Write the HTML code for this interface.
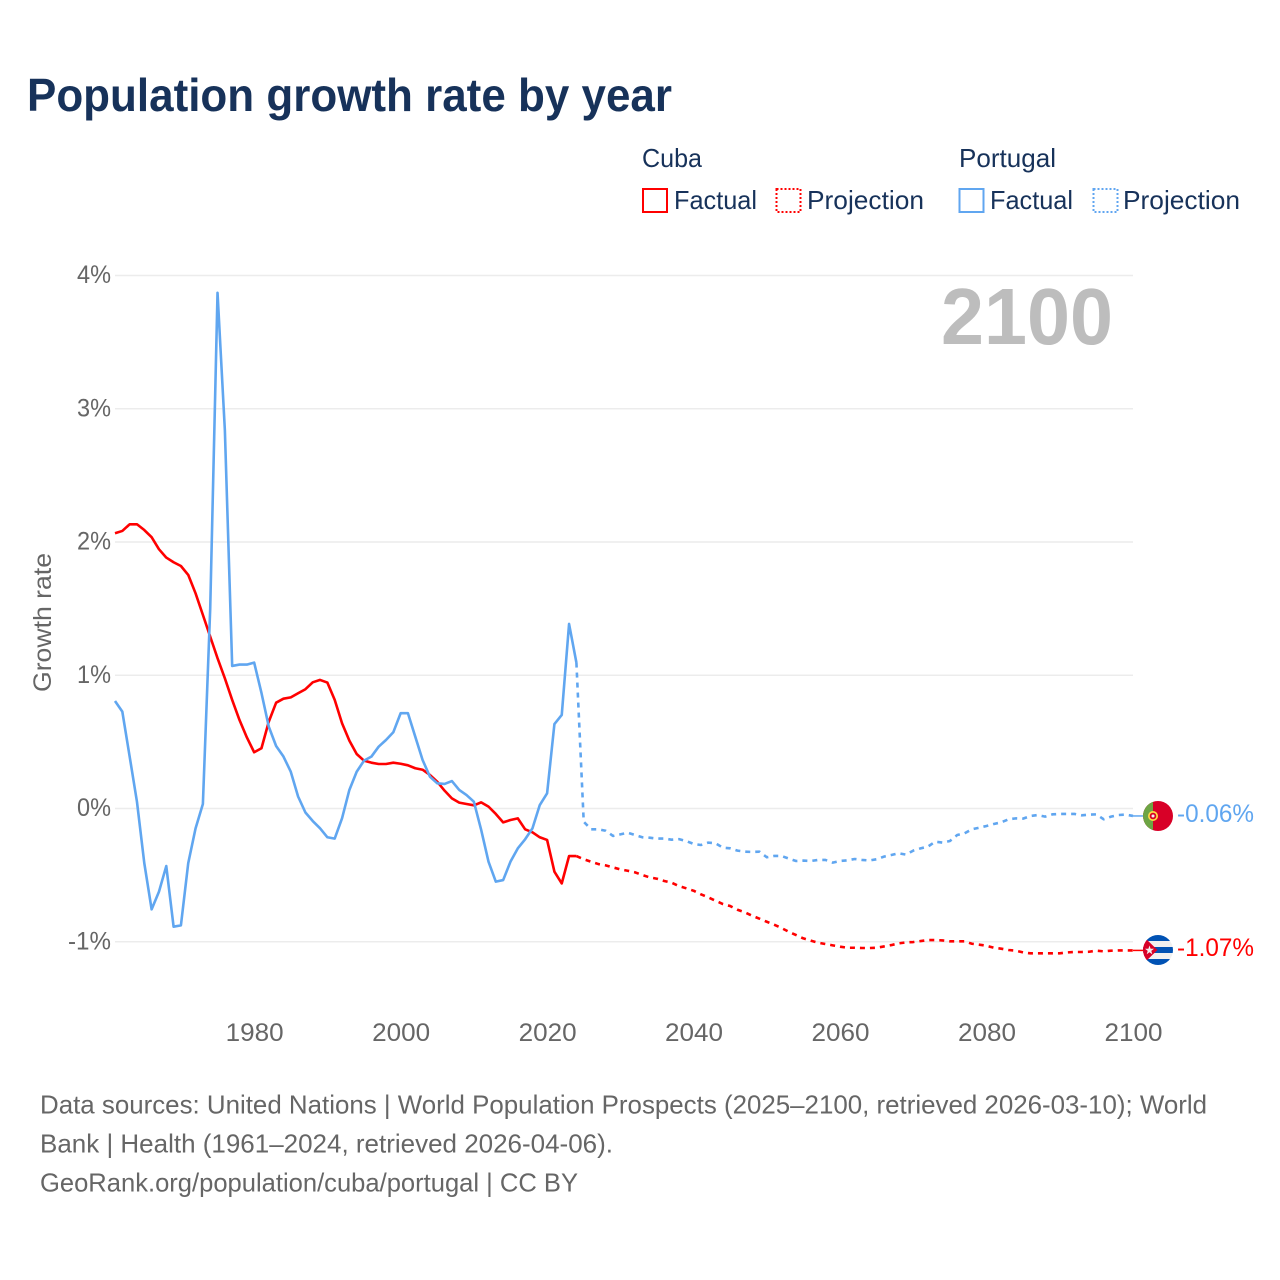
<!DOCTYPE html>
<html lang="en">
<head>
<meta charset="utf-8">
<title>Population growth rate by year</title>
<style>
html,body{margin:0;padding:0;background:#fff;}
svg{display:block;font-family:"Liberation Sans",sans-serif;}
</style>
</head>
<body>
<svg id="chart" xmlns="http://www.w3.org/2000/svg" width="1280" height="1280" viewBox="0 0 1280 1280">
  <defs>
    <clipPath id="clip-portugal"><circle cx="1158" cy="816" r="15"/></clipPath>
    <clipPath id="clip-cuba"><circle cx="1158" cy="950" r="15"/></clipPath>
  </defs>
  <rect width="1280" height="1280" fill="#fff"/>
  <text x="27" y="111" font-size="46" font-weight="700" fill="#17325a" textLength="645" lengthAdjust="spacingAndGlyphs">Population growth rate by year</text>

  <g font-size="26" fill="#17325a">
    <text x="642" y="167" textLength="60" lengthAdjust="spacingAndGlyphs">Cuba</text>
    <text x="959" y="167" textLength="97" lengthAdjust="spacingAndGlyphs">Portugal</text>
    <rect x="643" y="189" width="24" height="23" fill="none" stroke="#f00" stroke-width="2"/>
    <text x="674" y="209" textLength="83" lengthAdjust="spacingAndGlyphs">Factual</text>
    <rect x="776.500" y="189" width="24" height="23" fill="none" stroke="#f00" stroke-width="2" stroke-dasharray="2 2"/>
    <text x="807" y="209" textLength="117" lengthAdjust="spacingAndGlyphs">Projection</text>
    <rect x="959.500" y="189" width="24" height="23" fill="none" stroke="#60a6f0" stroke-width="2"/>
    <text x="990" y="209" textLength="83" lengthAdjust="spacingAndGlyphs">Factual</text>
    <rect x="1093.500" y="189" width="24" height="23" fill="none" stroke="#60a6f0" stroke-width="2" stroke-dasharray="2 2"/>
    <text x="1123" y="209" textLength="117" lengthAdjust="spacingAndGlyphs">Projection</text>
  </g>

  <g id="grid"></g>
  <g id="y-ticks"></g>
  <g id="x-ticks"></g>
  <text transform="translate(51,692) rotate(-90)" font-size="25" fill="#666" textLength="139" lengthAdjust="spacingAndGlyphs">Growth rate</text>
  <text x="941" y="344" font-size="80" font-weight="700" fill="#bdbdbd" textLength="172" lengthAdjust="spacingAndGlyphs">2100</text>

  <g id="series"></g>

  <g clip-path="url(#clip-portugal)">
    <rect x="1143" y="801" width="30" height="30" fill="#d80027"/>
    <rect x="1143" y="801" width="10" height="30" fill="#6da544"/>
    <circle cx="1153" cy="816" r="5" fill="#ffda44"/>
    <circle cx="1153" cy="816" r="3.300" fill="#d80027"/>
    <circle cx="1153" cy="816" r="1.500" fill="#f0f0f0"/>
  </g>
  <g clip-path="url(#clip-cuba)">
    <rect x="1143" y="935" width="30" height="30" fill="#f0f0f0"/>
    <rect x="1143" y="935" width="30" height="6" fill="#0052b4"/>
    <rect x="1143" y="947" width="30" height="6" fill="#0052b4"/>
    <rect x="1143" y="959" width="30" height="6" fill="#0052b4"/>
    <polygon points="1143,936 1157.500,950 1143,964" fill="#d80027"/>
    <polygon points="1149.500,945.500 1150.600,948.800 1154,948.800 1151.300,950.900 1152.300,954.200 1149.500,952.200 1146.700,954.200 1147.700,950.900 1145,948.800 1148.400,948.800" fill="#f0f0f0"/>
  </g>
  <text x="1177" y="822" font-size="25" fill="#60a6f0" textLength="77" lengthAdjust="spacingAndGlyphs">-0.06%</text>
  <text x="1177" y="956" font-size="25" fill="#f00" textLength="77" lengthAdjust="spacingAndGlyphs">-1.07%</text>

  <g font-size="26" fill="#666">
    <text x="40" y="1113.500" textLength="1167" lengthAdjust="spacingAndGlyphs">Data sources: United Nations | World Population Prospects (2025–2100, retrieved 2026-03-10); World</text>
    <text x="40" y="1152.500" textLength="573" lengthAdjust="spacingAndGlyphs">Bank | Health (1961–2024, retrieved 2026-04-06).</text>
    <text x="40" y="1191.500" textLength="538" lengthAdjust="spacingAndGlyphs">GeoRank.org/population/cuba/portugal | CC BY</text>
  </g>
</svg>
<script>
const factualStartYear = 1961;
const projectionStartYear = 2024;
const yTickValues = [4, 3, 2, 1, 0, -1];
const yTickLabels = ['4%', '3%', '2%', '1%', '0%', '-1%'];
const xTickValues = [1980, 2000, 2020, 2040, 2060, 2080, 2100];
const xTickLabels = ['1980', '2000', '2020', '2040', '2060', '2080', '2100'];
const cubaFactual = [2.066,2.083,2.133,2.133,2.09,2.036,1.946,1.883,1.848,1.82,1.753,1.615,1.453,1.29,1.128,0.977,0.815,0.664,0.534,0.422,0.452,0.652,0.794,0.824,0.834,0.865,0.895,0.947,0.965,0.945,0.815,0.64,0.509,0.409,0.359,0.344,0.334,0.334,0.344,0.336,0.324,0.302,0.291,0.252,0.201,0.134,0.076,0.044,0.034,0.024,0.046,0.014,-0.041,-0.104,-0.086,-0.074,-0.156,-0.179,-0.216,-0.236,-0.474,-0.562,-0.357,-0.357];
const cubaProjection = [-0.357,-0.381,-0.399,-0.417,-0.427,-0.442,-0.457,-0.467,-0.479,-0.499,-0.517,-0.527,-0.544,-0.557,-0.582,-0.599,-0.617,-0.644,-0.667,-0.692,-0.717,-0.732,-0.76,-0.779,-0.805,-0.827,-0.85,-0.872,-0.897,-0.925,-0.95,-0.975,-0.992,-1.007,-1.017,-1.027,-1.037,-1.045,-1.045,-1.047,-1.047,-1.045,-1.035,-1.025,-1.012,-1.005,-1.002,-0.995,-0.987,-0.987,-0.99,-0.997,-0.997,-0.997,-1.015,-1.022,-1.03,-1.045,-1.052,-1.062,-1.067,-1.08,-1.087,-1.087,-1.087,-1.087,-1.087,-1.08,-1.077,-1.077,-1.075,-1.067,-1.072,-1.067,-1.065,-1.065,-1.065];
const portugalFactual = [0.807,0.727,0.39,0.05,-0.41,-0.757,-0.625,-0.432,-0.887,-0.877,-0.41,-0.149,0.034,1.5,3.87,2.84,1.07,1.08,1.08,1.095,0.867,0.614,0.469,0.39,0.276,0.09,-0.03,-0.094,-0.149,-0.216,-0.226,-0.074,0.139,0.276,0.359,0.389,0.464,0.514,0.572,0.715,0.715,0.539,0.364,0.239,0.189,0.184,0.206,0.139,0.101,0.051,-0.161,-0.399,-0.549,-0.537,-0.399,-0.299,-0.231,-0.149,0.026,0.114,0.634,0.702,1.385,1.095];
const portugalProjection = [1.095,-0.099,-0.156,-0.156,-0.167,-0.206,-0.194,-0.182,-0.199,-0.216,-0.219,-0.226,-0.226,-0.234,-0.23,-0.244,-0.266,-0.274,-0.256,-0.261,-0.294,-0.299,-0.316,-0.324,-0.326,-0.324,-0.366,-0.356,-0.356,-0.376,-0.394,-0.391,-0.394,-0.386,-0.386,-0.406,-0.394,-0.389,-0.379,-0.386,-0.39,-0.381,-0.361,-0.349,-0.336,-0.346,-0.316,-0.299,-0.286,-0.249,-0.256,-0.244,-0.199,-0.186,-0.156,-0.144,-0.131,-0.116,-0.104,-0.081,-0.074,-0.076,-0.056,-0.049,-0.061,-0.044,-0.041,-0.041,-0.041,-0.051,-0.046,-0.044,-0.081,-0.061,-0.049,-0.046,-0.056];

const SVG_NS = 'http://www.w3.org/2000/svg';
function xScale(year) { return 115 + (year - 1961) * (1133 - 115) / (2100 - 1961); }
function yScale(value) { return 808.5 - value * 133.25; }
function linePoints(values, startYear) {
  return values.map(function (v, i) {
    return xScale(startYear + i).toFixed(2) + ',' + yScale(v).toFixed(2);
  }).join(' ');
}
function make(tag, attrs, parent) {
  const el = document.createElementNS(SVG_NS, tag);
  Object.keys(attrs).forEach(function (k) { el.setAttribute(k, attrs[k]); });
  parent.appendChild(el);
  return el;
}

const gridGroup = document.getElementById('grid');
const yTickGroup = document.getElementById('y-ticks');
yTickValues.forEach(function (v, i) {
  const line = make('line', { x1: 115, x2: 1133, y1: yScale(v), y2: yScale(v), stroke: '#ececec', 'stroke-width': 1.5 }, gridGroup);
  
  
  const label = make('text', { x: 111, y: yScale(v) + 7.5, 'text-anchor': 'end', 'font-size': 25, fill: '#666', textLength: yTickLabels[i].length > 2 ? 43 : 34, lengthAdjust: 'spacingAndGlyphs' }, yTickGroup);
  
  
  label.textContent = yTickLabels[i];
});

const xTickGroup = document.getElementById('x-ticks');
xTickValues.forEach(function (year, i) {
  const label = make('text', { x: xScale(year) + 0.5, y: 1041, 'text-anchor': 'middle', 'font-size': 25, fill: '#666', textLength: 58, lengthAdjust: 'spacingAndGlyphs' }, xTickGroup);
  
  
  label.textContent = xTickLabels[i];
});

const seriesGroup = document.getElementById('series');
function drawSeries(values, startYear, color, dashed, name) {
  const attrs = { points: linePoints(values, startYear), fill: 'none', stroke: color, 'stroke-width': 2.6, 'stroke-linejoin': 'round' };
  if (dashed) { attrs['stroke-dasharray'] = '5 5'; }
  const line = make('polyline', attrs, seriesGroup);
  
  
  return line;
}
function drawLeader(values, color, name) {
  const lastY = yScale(values[values.length - 1]);
  const line = make('line', { x1: xScale(2100), x2: 1144, y1: lastY, y2: lastY, stroke: color, 'stroke-width': 1.5 }, seriesGroup);
  
  
}
drawSeries(portugalProjection, projectionStartYear, '#60a6f0', true, 'line-portugal-projection');
drawSeries(cubaProjection, projectionStartYear, '#ff0000', true, 'line-cuba-projection');
drawSeries(cubaFactual, factualStartYear, '#ff0000', false, 'line-cuba-factual');
drawSeries(portugalFactual, factualStartYear, '#60a6f0', false, 'line-portugal-factual');
drawLeader(portugalProjection, '#60a6f0', 'leader-portugal');
drawLeader(cubaProjection, '#ff0000', 'leader-cuba');
</script>
</body>
</html>
